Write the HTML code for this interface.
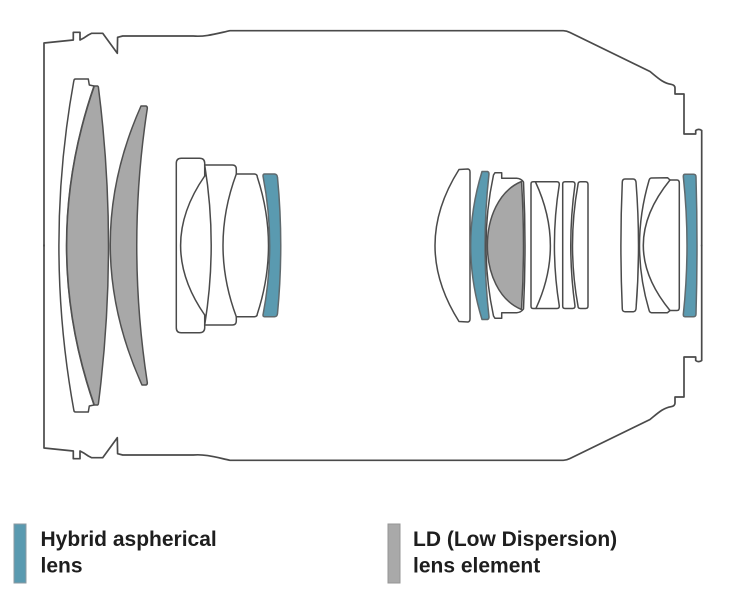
<!DOCTYPE html>
<html>
<head>
<meta charset="utf-8">
<style>
  html, body { margin: 0; padding: 0; background: #ffffff; }
  svg { display: block; }
  .ol { fill: none; stroke: #4a4a4a; stroke-width: 1.7; stroke-linejoin: round; stroke-linecap: round; }
  .wl { fill: #ffffff; stroke: #4a4a4a; stroke-width: 1.5; stroke-linejoin: round; }
  .ln { fill: none; stroke: #4a4a4a; stroke-width: 1.5; stroke-linecap: round; }
  .gl { fill: #a8a8a8; stroke: #505050; stroke-width: 1.5; stroke-linejoin: round; }
  .bl { fill: #5a9ab0; stroke: #5f6a6e; stroke-width: 1.5; stroke-linejoin: round; }
  .tx { font-family: "Liberation Sans", Arial, sans-serif; font-size: 21px; font-weight: bold; fill: #1e1e1e; }
</style>
</head>
<body>
<svg width="750" height="602" viewBox="0 0 750 602" xmlns="http://www.w3.org/2000/svg">
  <rect x="0" y="0" width="750" height="602" fill="#ffffff"/>

  <!-- Barrel outline: top half and mirrored bottom half -->
  <g>
    <path class="ol" d="M44,246 L44,43 L73.3,40 L73.3,32.3 L80,32.3 L80,40 L83.3,38.3 L88.3,35 L91.7,33.3 L102.7,33.3 L117.3,53.3 L117.6,37.3 L122.7,36 L193.3,36 C205,37 215,34 230,30.7 L563.3,30.7 C566,30.8 568,31.5 570,32.5 L650,71.5 C658,78 663,83 671,84.3 C674,84.8 675,86 675,88 L675,94 L684,94 L684,134 L695.7,134 L695.7,130.5 C697.5,129 700,129 701.7,130.5 L701.7,246"/>
  </g>
  <g transform="translate(0,491) scale(1,-1)">
    <path class="ol" d="M44,246 L44,43 L73.3,40 L73.3,32.3 L80,32.3 L80,40 L83.3,38.3 L88.3,35 L91.7,33.3 L102.7,33.3 L117.3,53.3 L117.6,37.3 L122.7,36 L193.3,36 C205,37 215,34 230,30.7 L563.3,30.7 C566,30.8 568,31.5 570,32.5 L650,71.5 C658,78 663,83 671,84.3 C674,84.8 675,86 675,88 L675,94 L684,94 L684,134 L695.7,134 L695.7,130.5 C697.5,129 700,129 701.7,130.5 L701.7,246"/>
  </g>

  <!-- Front group -->
  <path class="wl" d="M75.5,79 L88.3,79 L89.3,85 L94,86 Q39,245.5 94,405 L89.3,406 L88.3,412 L75.5,412 Q74,412 73.8,410 Q44,245.5 73.8,81 Q74,79 75.5,79 Z"/>
  <path class="gl" d="M94.3,86 L97.7,86 Q98.5,86.5 98.5,88 Q118.5,245.5 98.5,403 Q98.5,404.5 97.7,405 L94.3,405 Q39,245.5 94.3,86 Z"/>
  <path class="gl" d="M141,106 L146,106 Q147.5,106.5 147.3,108.5 Q126.2,245.5 147.3,382.5 Q147.5,384.5 146,385 L142,385 Q79,245.5 141,106 Z"/>

  <!-- Second group -->
  <path class="ln" d="M204.7,176 L204.7,163 Q204.5,158.3 199.5,158.3 L181.3,158.3 Q176.3,158.3 176.3,163.3 L176.3,327.7 Q176.3,332.7 181.3,332.7 L199.5,332.7 Q204.5,332.7 204.7,328 L204.7,315"/>
  <path class="ln" d="M204.7,176 Q156.5,245.5 204.7,315"/>
  <path class="ln" d="M204.7,165 L232.3,165 Q236.3,165 236.3,169 L236.3,174 M236.3,316.7 L236.3,321 Q236.3,325 232.3,325 L204.7,325"/>
  <path class="ln" d="M204.7,165 Q217.7,245 204.7,325"/>
  <path class="ln" d="M236.3,174 Q209.7,245.5 236.3,316.7"/>
  <path class="ln" d="M236.3,174 L254.5,174 Q257.3,174.3 257.3,177 Q279.7,245.5 257.3,314 Q257.3,316.5 254.5,316.7 L236.3,316.7"/>
  <path class="bl" d="M264.5,174 L274.5,174 Q277.3,174.3 277.5,177.5 Q284,245.5 277.5,313.5 Q277.3,316.7 274.5,316.7 L264.5,316.7 Q263,316.7 263,315 Q276.4,245.5 263,176 Q263,174 264.5,174 Z"/>

  <!-- Third group -->
  <path class="wl" d="M459,169.5 L468,169 Q470,169.5 470,172 L470,319 Q470,321.5 468,322 L459,321.5 Q411,245.5 459,169.5 Z"/>
  <path class="bl" d="M482,171.5 L487.5,171.5 Q489,172 489,174 Q481,245.5 489,317 Q489,319 487.5,319.5 L482,319.5 Q459.3,245.5 482,171.5 Z"/>
  <path class="wl" d="M493.5,175 L495,172.7 L501.7,172.7 L501.7,178.3 L516.7,178.3 Q521,178.5 523.5,182 Q526.5,245.5 523.5,309 Q521,312.5 516.7,312.7 L501.7,312.7 L501.7,318.3 L495,318.3 L493.5,316 Q478.5,245.5 493.5,175 Z"/>
  <path class="gl" d="M521.5,181.5 C476,200 476,291 521.5,309.5 Q525.5,245.5 521.5,181.5 Z"/>

  <path class="wl" d="M533,181.7 L557,181.7 Q559.3,181.7 559.3,184.5 Q549.5,245.5 559.3,306 Q559.3,308.5 557,308.5 L533,308.5 Q531,308.5 531,306 L531,184 Q531,181.7 533,181.7 Z"/>
  <path class="ln" d="M535.5,182 Q565,245.5 536,308.3"/>
  <path class="wl" d="M565,181.7 L572.5,181.7 Q575,181.7 575,184.5 Q566.5,245.5 575,306 Q575,308.5 572.5,308.5 L565,308.5 Q562.7,308.5 562.7,306 L562.7,184 Q562.7,181.7 565,181.7 Z"/>
  <path class="wl" d="M580.5,181.7 L585.5,181.7 Q588,181.7 588,184.5 L588,306 Q588,308.5 585.5,308.5 L580.5,308.5 Q578,308.5 578,306 Q567,245.5 578,184.5 Q578,181.7 580.5,181.7 Z"/>

  <!-- Rear group -->
  <path class="wl" d="M625,179 L633,179 Q635.5,179 636,182 Q641,245.5 636,309 Q635.5,311.7 633,311.7 L625,311.7 Q622.5,311.7 622.3,309 Q619.5,245.5 622.3,182 Q622.5,179 625,179 Z"/>
  <path class="wl" d="M651.5,178 L667.5,177.7 L670,180 L677,180 Q679.3,180 679.3,183 L679.3,307.5 Q679.3,310.5 677,310.5 L670,310.5 L667.5,312.7 L651.5,312.7 Q649.5,312.5 649,310 Q630,245.5 649,180.5 Q649.5,178.2 651.5,178 Z"/>
  <path class="ln" d="M670,180 Q616.6,245.5 670,310.5"/>
  <path class="bl" d="M685,174.3 L693.5,174.3 Q696,174.3 696,177 Q698,245.5 696,314 Q696,316.7 693.5,316.7 L685,316.7 Q683.3,316.7 683.3,314.5 Q690.7,245.5 683.3,176.5 Q683.3,174.3 685,174.3 Z"/>

  <!-- Legend -->
  <rect x="14" y="524" width="12" height="59" fill="#5a9ab0" stroke="#8c9aa0" stroke-width="1"/>
  <text class="tx" x="40.5" y="546">Hybrid aspherical</text>
  <text class="tx" x="40.5" y="572.7">lens</text>

  <rect x="388" y="524" width="12" height="59" fill="#a9a9a9" stroke="#959595" stroke-width="1"/>
  <text class="tx" x="413" y="546">LD (Low Dispersion)</text>
  <text class="tx" x="413" y="572.7">lens element</text>
</svg>
</body>
</html>
